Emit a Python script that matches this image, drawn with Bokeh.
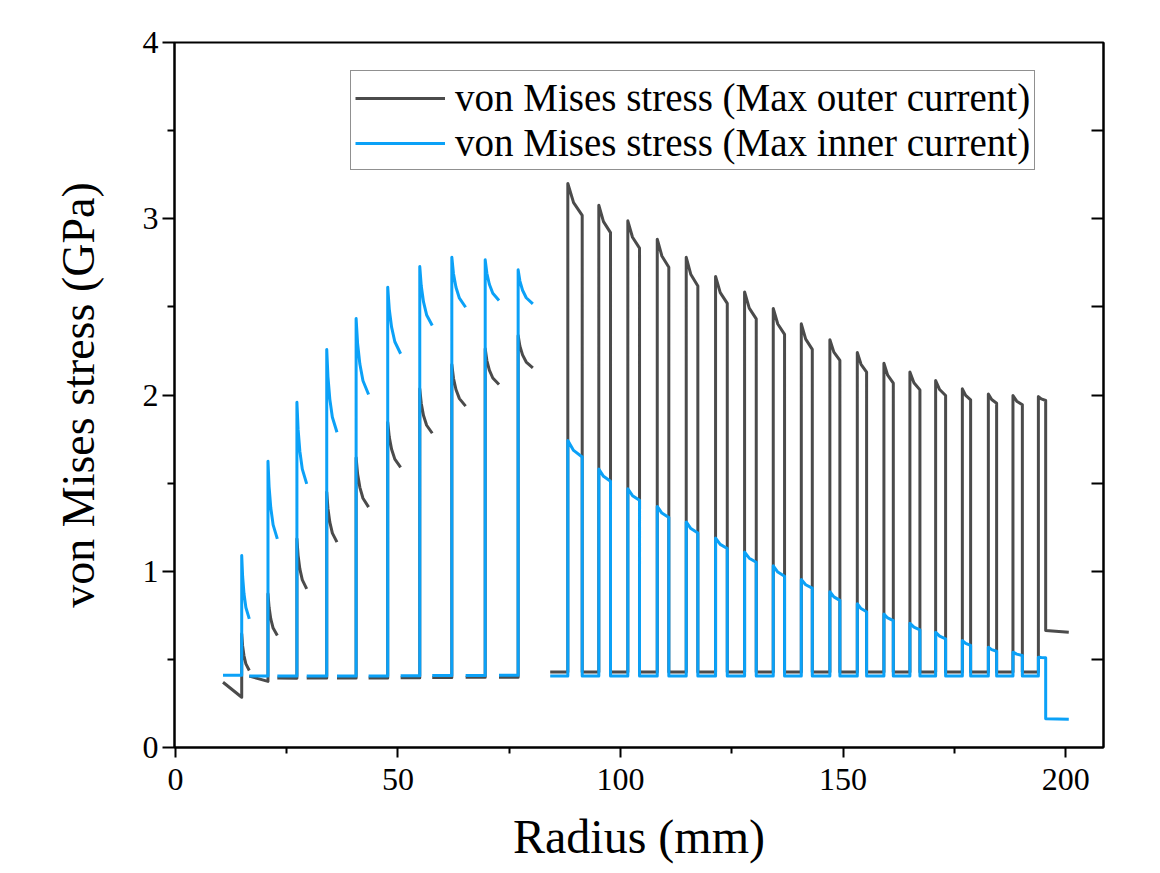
import numpy as np
from bokeh.plotting import figure
from bokeh.models import Range1d, LinearAxis, FixedTicker, Legend, LegendItem, CustomJSTickFormatter
from bokeh.embed import file_html
from bokeh.resources import INLINE

# ---------------- data ----------------
# inner winding (10-80 mm): each layer = flat gap, rise, decaying conductor stress
inner_gap_start = [10.7, 16.6, 22.9, 29.5, 36.3, 43.4, 50.6, 57.7, 65.2, 72.7]
inner_rise = [14.9, 20.8, 27.3, 34.0, 40.6, 47.7, 54.9, 62.1, 69.6, 77.0]
inner_tail = [16.6, 22.9, 29.5, 36.3, 43.4, 50.6, 57.7, 65.2, 72.7, 80.3]

# "Max outer current" case (grey) in the inner winding
outer_case_in_gap_a = [0.370, 0.405, 0.395, 0.394, 0.394, 0.395, 0.396, 0.397, 0.398, 0.399]
outer_case_in_gap_b = [0.285, 0.375, 0.393, 0.394, 0.394, 0.395, 0.396, 0.397, 0.398, 0.399]
outer_case_in_peak = [0.645, 0.872, 1.184, 1.449, 1.644, 1.846, 2.035, 2.173, 2.262, 2.338]
outer_case_in_tail = [0.437, 0.635, 0.900, 1.165, 1.364, 1.590, 1.783, 1.937, 2.060, 2.154]

# "Max inner current" case (blue) in the inner winding
inner_case_in_gap = [0.410, 0.405, 0.405, 0.405, 0.406, 0.406, 0.407, 0.408, 0.409, 0.410]
inner_case_in_peak = [1.089, 1.624, 1.959, 2.258, 2.434, 2.612, 2.729, 2.782, 2.767, 2.710]
inner_case_in_tail = [0.730, 1.184, 1.496, 1.789, 2.003, 2.234, 2.394, 2.498, 2.536, 2.517]

# normalised decay profile across a conductor layer (inner winding)
inner_decay_pos = [0.0, 0.12, 0.30, 0.55, 1.0]
inner_decay_frac = [0.0, 0.33, 0.60, 0.82, 1.0]

# outer winding (84-201 mm): rectangular layers
outer_start = 84.2
outer_end = 200.7
outer_rise = [88.16, 95.12, 101.64, 108.25, 114.76, 121.35, 127.87, 134.31, 140.61,
              147.03, 153.19, 159.17, 165.01, 170.79, 176.79, 182.63, 188.16, 193.87]
outer_fall = [91.39, 97.75, 104.27, 110.85, 117.37, 123.98, 130.49, 136.85, 143.08,
              149.28, 155.28, 161.28, 167.26, 173.03, 178.65, 184.49, 190.27, 195.51]

outer_case_out_gap = 0.428
outer_case_out_peak = [3.200, 3.077, 2.988, 2.884, 2.781, 2.673, 2.585, 2.491, 2.404,
                       2.314, 2.241, 2.180, 2.130, 2.082, 2.035, 2.006, 1.997, 1.991]
outer_case_out_end = [3.019, 2.921, 2.833, 2.725, 2.618, 2.520, 2.432, 2.344, 2.259,
                      2.196, 2.130, 2.067, 2.029, 1.997, 1.973, 1.953, 1.944, 1.969]
outer_case_last = [0.664, 0.654]

inner_case_out_gap = 0.405
inner_case_out_peak = [1.742, 1.580, 1.468, 1.368, 1.280, 1.188, 1.109, 1.031, 0.953,
                       0.884, 0.816, 0.758, 0.705, 0.654, 0.607, 0.569, 0.541, 0.512]
inner_case_out_end = [1.648, 1.511, 1.403, 1.305, 1.217, 1.129, 1.051, 0.972, 0.904,
                      0.835, 0.770, 0.720, 0.668, 0.617, 0.579, 0.546, 0.522, 0.509]
inner_case_last = [0.163, 0.160]

outer_decay_pos = [0.0, 0.4, 1.0]
outer_decay_frac = [0.0, 0.6, 1.0]

x_ticks = [0, 50, 100, 150, 200]
x_minor = [25, 75, 125, 175]
y_ticks = [0, 1, 2, 3, 4]
y_minor = [0.5, 1.5, 2.5, 3.5]
right_ticks = [0.5, 1, 1.5, 2, 2.5, 3, 3.5]

GREY = "#4b4b4b"
BLUE = "#0ba1f7"
FONT = "Liberation Serif"


def build(gap_a, gap_b, peak, tail, out_gap, out_peak, out_end, last):
    xs, ys = [], []
    for i in range(len(inner_rise)):
        xs += [inner_gap_start[i], inner_rise[i]]
        ys += [gap_a[i], gap_b[i]]
        w = inner_tail[i] - inner_rise[i]
        for t, f in zip(inner_decay_pos, inner_decay_frac):
            xs.append(inner_rise[i] + t * w)
            ys.append(peak[i] - f * (peak[i] - tail[i]))
        xs.append(np.nan)
        ys.append(np.nan)
    xs.append(outer_start)
    ys.append(out_gap)
    n = len(outer_rise)
    for i in range(n):
        xs.append(outer_rise[i])
        ys.append(out_gap)
        w = outer_fall[i] - outer_rise[i]
        for t, f in zip(outer_decay_pos, outer_decay_frac):
            xs.append(outer_rise[i] + t * w)
            ys.append(out_peak[i] - f * (out_peak[i] - out_end[i]))
        xs.append(outer_fall[i])
        ys.append(out_gap if i < n - 1 else last[0])
    xs.append(outer_end)
    ys.append(last[1])
    return np.array(xs, dtype=float), np.array(ys, dtype=float)


gx, gy = build(outer_case_in_gap_a, outer_case_in_gap_b, outer_case_in_peak, outer_case_in_tail,
               outer_case_out_gap, outer_case_out_peak, outer_case_out_end, outer_case_last)
bx, by = build(inner_case_in_gap, inner_case_in_gap, inner_case_in_peak, inner_case_in_tail,
               inner_case_out_gap, inner_case_out_peak, inner_case_out_end, inner_case_last)

p = figure(frame_width=929, frame_height=705,
           x_range=Range1d(-0.2, 208.5), y_range=Range1d(0, 4),
           output_backend="svg", toolbar_location=None,
           min_border_left=174, min_border_top=42, min_border_right=40, min_border_bottom=126)
p.grid.visible = False
p.outline_line_color = "black"
p.outline_line_width = 2
p.background_fill_color = "white"
p.border_fill_color = "white"

r1 = p.line(gx, gy, line_color=GREY, line_width=3, line_join="round")
r2 = p.line(bx, by, line_color=BLUE, line_width=3, line_join="round")

xa = p.xaxis[0]
xa.ticker = FixedTicker(ticks=x_ticks, minor_ticks=x_minor)
xa.axis_label = "Radius (mm)"
ya = p.yaxis[0]
ya.ticker = FixedTicker(ticks=y_ticks, minor_ticks=y_minor)
ya.axis_label = "von Mises stress (GPa)"

for ax in (xa, ya):
    ax.axis_line_width = 2
    ax.major_tick_line_width = 2
    ax.minor_tick_line_width = 2
    ax.major_tick_in = 0
    ax.minor_tick_in = 0
    ax.major_label_text_font = FONT
    ax.major_label_text_font_size = "32px"
    ax.major_label_text_color = "black"
    ax.axis_label_text_font = FONT
    ax.axis_label_text_font_style = "normal"
    ax.axis_label_text_color = "black"

xa.major_tick_out = 10
xa.minor_tick_out = 6
xa.major_label_standoff = 11
xa.axis_label_text_font_size = "48px"
xa.axis_label_standoff = 17

ya.major_tick_out = 12
ya.minor_tick_out = 7
ya.major_label_standoff = 4
ya.axis_label_text_font_size = "46px"
ya.axis_label_standoff = 36

ra = LinearAxis(ticker=FixedTicker(ticks=right_ticks),
                formatter=CustomJSTickFormatter(code="return ''"))
ra.axis_line_width = 2
ra.major_tick_line_width = 2
ra.major_tick_in = 12
ra.major_tick_out = 0
ra.minor_tick_in = 0
ra.minor_tick_out = 0
p.add_layout(ra, "right")

legend = Legend(items=[LegendItem(label="von Mises stress (Max outer current)", renderers=[r1]),
                       LegendItem(label="von Mises stress (Max inner current)", renderers=[r2])],
                location=(176, 577))
legend.label_text_font = FONT
legend.label_text_font_size = "39px"
legend.label_text_color = "black"
legend.glyph_width = 90
legend.glyph_height = 40
legend.label_height = 40
legend.label_standoff = 10
legend.spacing = 0
legend.padding = 4
legend.margin = 0
legend.border_line_color = "#222222"
legend.border_line_width = 1
legend.background_fill_color = "white"
legend.background_fill_alpha = 1
p.add_layout(legend)

open("out.html", "w").write(file_html(p, INLINE))
